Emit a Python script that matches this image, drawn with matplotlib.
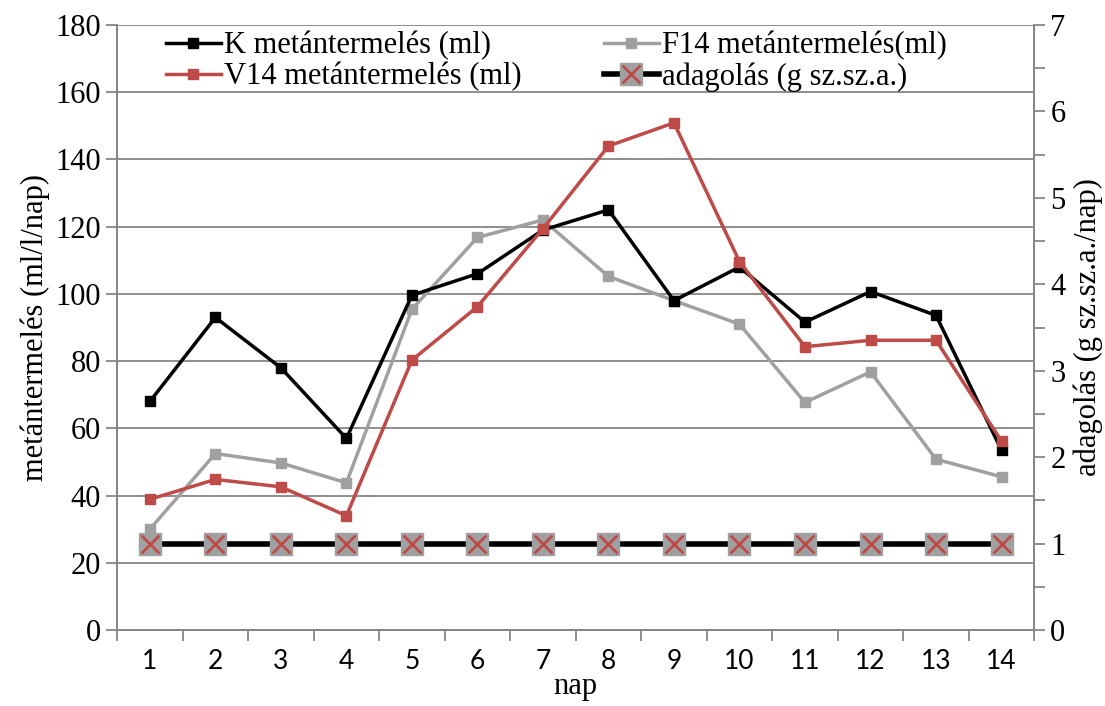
import matplotlib
matplotlib.use('Agg')
import matplotlib.pyplot as plt
import numpy as np
from matplotlib.legend_handler import HandlerTuple
from matplotlib.ticker import MultipleLocator

# napok es metantermeles adatok
days = list(range(1, 15))
k_methane = [68, 93, 78, 57, 99.6, 106, 119, 125, 98, 108, 91.6, 100.7, 93.6, 53.5]
f14_methane = [30, 52.5, 49.7, 43.8, 95.4, 116.8, 122, 105.2, 98, 91, 67.7, 76.8, 50.8, 45.6]
v14_methane = [38.9, 44.8, 42.6, 34, 80.3, 96.2, 119.4, 144, 150.9, 109.6, 84.3, 86.2, 86.2, 56.2]
dosing = [1] * 14

serif = 'Liberation Serif'
plt.rcParams['font.family'] = 'serif'
plt.rcParams['font.serif'] = [serif, 'DejaVu Serif']
grid_col = '#868686'
red = '#BE4B48'
gray = '#A0A0A0'

fig = plt.figure(figsize=(11.05, 7.06), dpi=100)
ax = fig.add_axes([0.106, 0.1076, 0.830, 0.857])
ax2 = ax.twinx()

x = np.array(days)
l_k, = ax.plot(x, k_methane, color='black', lw=2.5, marker='s', ms=7, zorder=4)
l_f, = ax.plot(x, f14_methane, color=gray, lw=2.5, marker='s', ms=7, zorder=3)
l_v, = ax.plot(x, v14_methane, color=red, lw=2.5, marker='s', ms=7, zorder=5)

l_d, = ax2.plot(x, dosing, color='black', lw=4, marker='s', ms=16,
                markerfacecolor=gray, markeredgecolor=gray, zorder=3)
l_dx, = ax2.plot(x, dosing, ls='none', marker='x', ms=13, mew=2,
                 color=red, zorder=4)

ax.set_xlim(0.5, 14.5)
ax.set_ylim(0, 180)
ax2.set_ylim(0, 7)

yt = list(range(0, 181, 20))
ax.set_yticks(yt)
ax.set_yticklabels([str(v) for v in yt], family=serif, fontsize=22)
ax.yaxis.grid(True, color=grid_col, lw=1.3)
ax.set_axisbelow(True)
ax.set_xticks(days)
ax.set_xticklabels([str(d) for d in days], family='Lato', fontsize=19)
ax.set_xticks(np.arange(0.5, 15, 1), minor=True)
ax.tick_params(axis='x', which='major', length=0, pad=14)
ax.tick_params(axis='x', which='minor', length=8, width=1.3, color=grid_col)
ax.tick_params(axis='y', length=8, width=1.3, color=grid_col)

rt = list(range(0, 8))
ax2.set_yticks(rt)
ax2.set_yticklabels([str(v) for v in rt], family=serif, fontsize=22)
ax2.yaxis.set_minor_locator(MultipleLocator(0.5))
ax2.tick_params(axis='y', which='both', length=8, width=1.3, color=grid_col)

for a in (ax, ax2):
    for s in a.spines.values():
        s.set_color(grid_col)
        s.set_linewidth(1.3)
    a.spines['top'].set_visible(False)

ax.set_ylabel('metántermelés (ml/l/nap)', family=serif, fontsize=22, labelpad=4)
ax2.set_ylabel('adagolás (g sz.sz.a./nap)', family=serif, fontsize=22, rotation=90, labelpad=6)
ax.set_xlabel('nap', family=serif, fontsize=22, labelpad=-2)

ax.legend([l_k, l_v, l_f, (l_d, l_dx)],
          ['K metántermelés (ml)', 'V14 metántermelés (ml)',
           'F14 metántermelés(ml)', 'adagolás (g sz.sz.a.)'],
          handler_map={tuple: HandlerTuple(ndivide=1, pad=0)},
          ncol=2, loc='upper left', bbox_to_anchor=(0.033, 1.02), frameon=False,
          prop={'family': serif, 'size': 22}, handlelength=1.8, handletextpad=0.1,
          columnspacing=2.7, labelspacing=0.05, borderaxespad=0.2)

fig.savefig('out.png', dpi=100)
